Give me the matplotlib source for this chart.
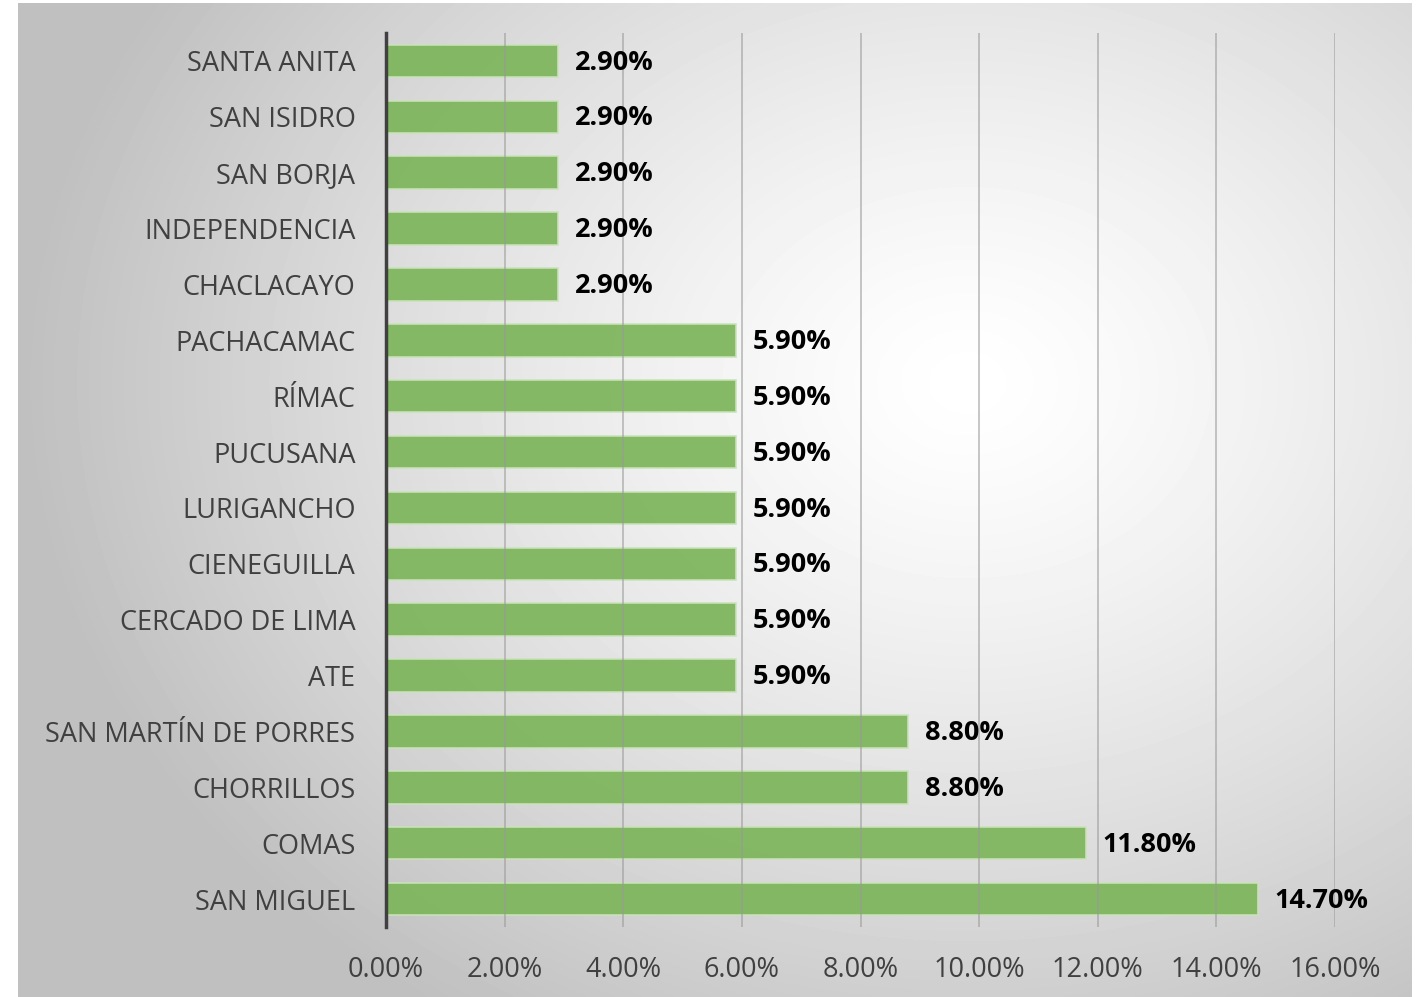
import numpy as np
import matplotlib.pyplot as plt
from matplotlib.ticker import FuncFormatter

plt.rcParams['font.family'] = ['Open Sans', 'DejaVu Sans']

# Data (top to bottom as shown)
districts = ['SANTA ANITA', 'SAN ISIDRO', 'SAN BORJA', 'INDEPENDENCIA', 'CHACLACAYO',
             'PACHACAMAC', 'RÍMAC', 'PUCUSANA', 'LURIGANCHO', 'CIENEGUILLA',
             'CERCADO DE LIMA', 'ATE', 'SAN MARTÍN DE PORRES', 'CHORRILLOS',
             'COMAS', 'SAN MIGUEL']
percent = [2.9, 2.9, 2.9, 2.9, 2.9, 5.9, 5.9, 5.9, 5.9, 5.9, 5.9, 5.9,
           8.8, 8.8, 11.8, 14.7]
xticks = [0, 2, 4, 6, 8, 10, 12, 14, 16]

W, H = 1420, 997
fig = plt.figure(figsize=(W / 100, H / 100), dpi=100)
fig.patch.set_facecolor('white')

# background panel with radial gradient
bg = fig.add_axes([18 / W, 0, (1412 - 18) / W, 994 / H], zorder=-5)
gx, gy = np.meshgrid(np.linspace(0, 1394, 400), np.linspace(0, 994, 300))
r = np.sqrt(((gx - 950) / 1000) ** 2 + ((gy - 380) / 800) ** 2)
shade = 1.0 - 0.25 * np.clip(r / 0.95, 0, 1) ** 1.3
bg.imshow(shade, cmap='gray', vmin=0, vmax=1, aspect='auto',
          extent=[0, 1, 0, 1], interpolation='bilinear')
bg.set_axis_off()

ax = fig.add_axes([386 / W, (H - 927) / H, (1335 - 386) / W, (927 - 33) / H])
ax.set_facecolor('none')

y = np.arange(len(districts))
ax.barh(y, percent, height=0.58, color='#7fb65e', alpha=0.95,
        edgecolor='#c9e3b8', linewidth=1.2, zorder=2)
for yi, v in zip(y, percent):
    ax.text(v + 0.28, yi + 0.03, f'{v:.2f}%', va='center', ha='left',
            fontsize=19.5, fontweight='bold', color='black', zorder=4)

ax.set_ylim(len(districts) - 0.5, -0.5)
ax.set_xlim(0, 16)
ax.set_xticks(xticks)
ax.xaxis.set_major_formatter(FuncFormatter(lambda v, p: f'{v:.2f}%'))
ax.grid(axis='x', color='#9a9a9a', linewidth=1.2, alpha=0.65, zorder=3)
ax.set_axisbelow(False)
ax.set_yticks(y)
ax.set_yticklabels(districts)
ax.tick_params(axis='y', length=0, pad=22, labelsize=19.5, labelcolor='#404040')
ax.tick_params(axis='x', length=0, pad=21, labelsize=19.5, labelcolor='#404040')
for s in ['top', 'right', 'bottom']:
    ax.spines[s].set_visible(False)
ax.spines['left'].set_color('#404040')
ax.spines['left'].set_linewidth(2.5)
ax.spines['left'].set_zorder(5)

fig.savefig('out.png', dpi=100)
